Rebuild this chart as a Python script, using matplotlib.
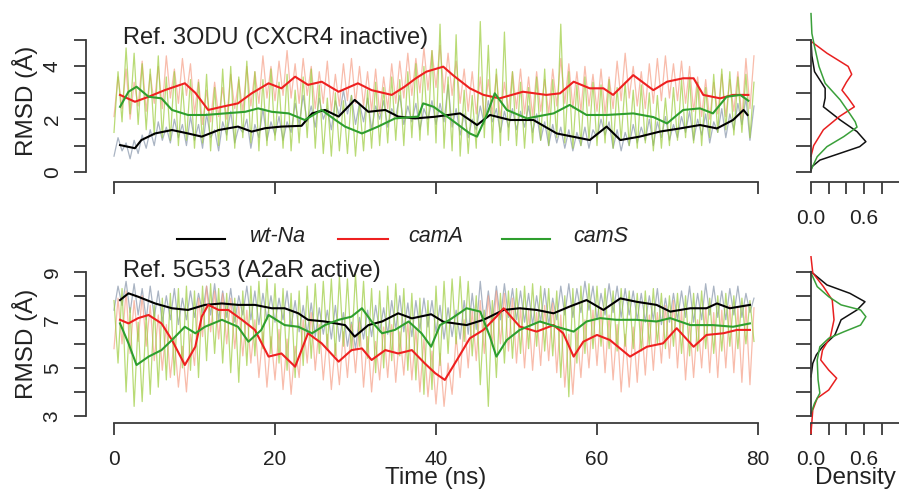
import numpy as np
import matplotlib
matplotlib.use("Agg")
import matplotlib.pyplot as plt
from matplotlib.lines import Line2D

plt.rcParams['font.family'] = ['Liberation Sans', 'DejaVu Sans']

# ---------------- data ----------------
raw_time = np.arange(160) * 0.5  # ns

top_raw_wt = [float(v) for v in """
0.6 1.3 0.8 1.1 0.5 1.2 0.7 1.4 0.9 1.6 1.0 1.9 1.2 1.7 1.1 2.0 1.3 1.8 1.0 2.1
1.2 1.8 0.9 2.2 1.3 1.6 0.8 1.9 1.4 2.3 1.1 1.7 1.5 2.0 0.9 1.8 1.3 2.4 1.2 1.9
1.4 2.1 1.2 1.9 1.5 2.6 1.8 2.9 1.9 2.5 1.7 2.8 2.0 2.4 1.6 2.7 2.1 3.1 2.2 2.9
1.8 2.6 1.9 2.8 1.6 2.5 2.0 2.7 1.7 2.4 2.1 2.9 1.8 2.5 1.9 2.6 1.6 2.4 2.0 2.7
1.8 2.6 1.9 3.3 1.7 2.4 1.4 2.2 1.3 2.0 1.6 2.5 1.8 2.7 1.9 2.4 1.5 2.3 1.7 2.4
1.6 2.3 1.7 2.5 1.5 2.2 1.2 1.9 1.0 1.8 1.1 1.7 0.9 1.6 0.8 1.5 1.0 1.7 0.9 1.6
1.3 2.0 1.4 1.9 0.9 1.6 0.8 1.5 1.0 1.8 1.1 1.7 1.2 2.0 1.0 1.9 1.3 2.1 1.2 1.8
1.3 2.1 1.5 2.3 1.2 2.0 1.4 2.2 1.1 1.9 1.5 2.4 1.3 2.2 1.6 2.6 1.8 2.8 1.2 2.5
""".split()]

top_raw_camA = [float(v) for v in """
2.1 3.6 2.4 3.9 2.0 3.4 2.5 4.2 2.3 3.7 2.6 4.0 2.4 4.4 2.8 3.9 2.6 4.3 2.9 4.1
2.2 3.5 1.8 3.1 1.9 3.4 2.1 3.2 2.0 3.7 2.4 3.5 2.3 4.0 2.5 3.8 2.6 4.4 2.8 4.0
2.7 4.2 2.9 4.6 2.8 4.1 2.6 4.3 2.9 4.0 2.4 3.8 2.6 4.2 2.3 3.7 2.5 4.1 2.7 4.3
2.6 4.0 2.5 3.8 2.3 3.9 2.2 3.6 2.4 4.1 2.6 4.2 2.8 4.5 2.9 4.3 3.0 4.7 3.1 4.6
3.2 4.8 3.0 4.5 2.9 4.2 2.6 3.9 2.3 3.8 2.2 3.6 2.1 3.5 2.2 3.7 2.0 3.4 2.3 3.8
2.4 3.9 2.2 3.6 2.1 3.8 2.3 3.5 2.2 3.9 2.5 4.3 2.6 4.1 2.4 3.8 2.3 4.0 2.5 3.7
2.3 3.9 2.2 3.6 2.4 4.2 2.7 4.5 2.8 4.0 2.5 3.8 2.4 4.1 2.6 4.3 2.7 4.4 2.8 4.1
2.7 4.2 2.6 4.0 2.3 3.6 2.1 3.5 2.0 3.4 2.2 3.7 2.1 3.5 2.3 3.8 2.0 4.3 2.4 4.4
""".split()]

top_raw_camS = [float(v) for v in """
1.5 3.8 1.9 4.7 2.2 4.5 1.8 4.1 1.6 3.9 1.4 4.4 1.3 3.6 1.2 3.8 1.0 3.3 1.2 3.5
0.9 3.4 1.1 3.7 0.8 3.2 1.0 3.9 1.2 4.0 0.9 3.6 1.3 4.2 1.1 3.8 0.8 3.5 1.0 3.9
1.2 3.4 0.9 3.7 0.8 3.1 1.1 3.6 1.3 3.9 0.9 3.3 0.7 2.8 0.6 3.0 0.8 2.7 0.7 2.9
0.6 2.6 0.8 3.1 0.9 3.4 1.0 3.2 1.1 3.6 1.2 3.5 1.0 3.8 1.3 4.1 1.2 4.0 1.4 4.6
1.1 5.6 0.9 3.6 0.8 5.2 0.6 3.1 0.7 2.9 0.9 5.7 1.3 4.8 1.1 3.9 1.0 5.3 1.2 3.8
1.0 3.4 0.9 3.2 1.1 3.6 1.2 3.9 1.0 3.5 1.3 5.6 1.1 3.8 0.9 3.3 1.0 3.6 1.2 3.4
1.0 3.3 1.1 3.5 0.9 3.2 1.2 3.4 1.0 3.1 0.9 3.3 1.1 3.0 0.8 2.9 0.9 2.8 1.0 3.2
1.2 3.5 1.3 3.6 1.1 3.4 1.0 3.2 1.3 3.7 1.5 3.9 1.6 3.8 1.4 3.6 1.5 3.7 1.3 3.4
""".split()]

bot_raw_wt = [float(v) for v in """
7.4 8.4 7.6 8.6 7.3 8.5 7.2 8.3 7.0 8.4 7.1 8.2 6.9 8.0 7.0 8.3 6.8 7.9 7.0 8.2
7.1 8.1 7.3 8.4 7.2 8.5 7.0 8.2 7.1 8.3 6.9 8.0 7.2 8.4 7.0 8.2 6.8 8.1 7.0 8.0
6.9 7.9 7.0 8.2 6.7 7.8 6.5 7.6 6.4 7.7 6.3 7.5 6.4 7.4 6.2 7.6 6.1 7.3 5.9 6.9
5.8 7.1 6.2 7.4 6.3 7.6 6.5 7.5 6.4 7.8 6.6 8.0 6.5 7.7 6.3 7.8 6.6 7.9 6.7 7.8
6.5 7.6 6.2 7.5 6.3 7.4 6.2 7.8 6.4 8.1 6.6 8.6 6.8 8.2 6.9 8.4 7.0 8.5 7.1 8.3
7.0 8.2 6.9 8.1 6.8 8.0 6.9 8.3 6.8 7.9 7.0 8.4 7.2 8.5 7.1 8.3 7.3 8.6 7.4 8.4
7.0 8.1 7.2 8.5 7.3 8.4 7.1 8.3 7.2 8.2 7.0 8.1 6.9 8.0 7.0 8.3 6.8 7.9 6.9 8.1
7.0 8.2 7.1 8.4 6.9 8.1 7.0 8.5 7.2 8.4 7.1 8.2 7.0 8.3 7.2 8.4 7.1 8.1 7.3 7.9
""".split()]

bot_raw_camA = [float(v) for v in """
5.8 7.9 6.0 8.2 5.6 7.8 6.1 8.0 5.9 7.6 5.3 7.2 4.9 6.8 4.6 6.2 4.2 5.9 4.0 6.4
5.1 7.9 6.3 8.4 6.5 8.2 6.2 8.1 6.0 7.9 5.8 7.6 5.5 7.4 5.2 7.0 4.6 6.5 4.2 6.3
4.5 6.6 4.1 6.2 3.9 5.9 4.6 7.0 5.2 7.3 4.9 6.8 4.5 6.4 4.1 6.0 4.3 6.5 4.6 6.8
4.8 6.9 4.2 6.3 4.0 6.1 4.5 6.7 4.6 6.8 4.4 6.5 4.7 6.9 4.5 6.6 4.0 6.2 3.8 5.7
3.5 5.6 3.4 5.2 3.9 6.3 4.6 7.0 5.0 7.4 5.3 7.8 5.6 8.0 5.9 8.2 6.0 8.1 5.7 7.9
5.2 7.5 5.0 7.4 4.9 7.3 5.1 7.6 5.3 7.7 4.8 7.2 4.2 6.4 3.9 6.6 4.6 7.0 5.0 7.4
5.1 7.5 4.8 7.2 4.5 6.8 4.0 6.4 4.2 6.7 4.4 7.0 4.7 7.2 4.9 7.3 5.2 7.6 5.4 7.8
5.0 7.4 4.5 6.9 4.6 7.0 5.0 7.5 4.8 7.3 4.6 7.4 5.0 7.6 4.8 7.5 4.4 7.6 4.3 7.5
""".split()]

bot_raw_camS = [float(v) for v in """
7.8 5.2 8.3 4.0 7.5 3.4 6.9 3.6 7.2 3.9 7.6 4.2 7.9 4.5 8.1 4.7 8.3 5.0 8.4 4.9
8.2 4.6 8.4 5.3 8.5 5.6 8.3 5.2 8.1 4.8 7.9 4.4 8.2 5.1 8.4 5.5 8.6 5.8 8.7 5.6
8.5 5.2 8.3 4.9 8.1 4.6 8.2 5.1 8.4 5.4 8.5 5.6 8.6 5.8 8.7 5.5 8.8 5.9 8.7 5.7
8.9 5.9 8.6 5.4 8.3 4.8 8.2 5.0 8.4 5.3 8.5 5.5 8.3 4.9 8.1 4.5 7.9 3.9 7.8 4.1
8.4 5.1 8.6 5.6 8.7 6.0 8.8 6.1 8.6 5.5 8.0 4.3 7.4 3.4 7.8 4.6 8.1 5.2 8.2 5.4
8.3 5.6 8.4 5.8 8.5 5.9 8.4 5.7 8.3 5.5 8.2 4.6 8.0 3.8 8.3 5.2 8.4 5.6 8.5 5.8
8.4 5.9 8.3 5.8 8.2 5.7 8.3 5.9 8.2 5.8 8.1 5.7 8.2 5.9 8.3 6.0 8.1 5.8 8.0 5.9
8.1 5.6 8.0 5.5 8.1 5.7 8.2 5.8 7.9 5.6 8.0 5.7 8.1 5.9 8.0 5.8 7.9 6.0 7.8 6.1
""".split()]

# smoothed (running mean) traces
top_wt_t = [0.75, 2.6, 3.4, 5.1, 7.2, 9.2, 10.9, 13.0, 15.4, 17.1, 18.8, 20.8, 23.3, 24.6, 26.2, 27.9, 29.9, 31.6, 33.7, 35.3, 37.4, 39.8, 43.0, 45.1, 46.7, 49.2, 52.1, 55.0, 59.1, 61.2, 62.9, 65.3, 67.8, 70.3, 72.8, 74.9, 76.9, 78.2, 78.7]
top_wt_v = [1.02, 0.90, 1.21, 1.46, 1.59, 1.46, 1.34, 1.59, 1.72, 1.53, 1.66, 1.72, 1.75, 2.22, 2.35, 2.10, 2.73, 2.28, 2.35, 2.10, 2.03, 2.09, 2.22, 1.78, 2.16, 1.97, 1.97, 1.46, 1.21, 1.72, 1.21, 1.34, 1.53, 1.65, 1.78, 1.65, 1.97, 2.35, 2.16]

top_camA_t = [0.75, 2.6, 4.3, 6.3, 8.8, 10.1, 11.7, 13.4, 15.4, 17.1, 19.2, 20.8, 22.5, 24.1, 25.8, 27.9, 30.3, 32.0, 34.5, 36.1, 37.5, 38.8, 40.9, 42.1, 44.2, 45.9, 47.9, 50.8, 53.7, 55.4, 57.1, 59.1, 60.8, 62.0, 64.5, 67.0, 68.7, 70.7, 72.0, 73.2, 75.3, 76.9, 78.8]
top_camA_v = [2.92, 2.66, 2.85, 3.10, 3.36, 3.00, 2.35, 2.47, 2.60, 2.98, 3.36, 3.17, 3.61, 3.30, 3.42, 3.04, 3.36, 3.10, 2.92, 3.23, 3.55, 3.80, 3.99, 3.67, 3.17, 2.92, 2.79, 3.04, 2.92, 2.98, 3.42, 3.17, 3.17, 2.92, 3.67, 3.10, 3.42, 3.55, 3.55, 2.92, 2.79, 2.92, 2.92]

top_camS_t = [0.75, 1.8, 2.8, 4.3, 5.9, 7.2, 9.2, 11.3, 13.8, 16.3, 17.9, 19.6, 21.7, 23.7, 25.8, 27.5, 28.7, 30.8, 32.8, 34.9, 37.8, 38.4, 39.7, 41.7, 44.2, 45.1, 46.3, 47.3, 48.8, 51.3, 54.6, 56.6, 58.7, 61.2, 64.5, 67.0, 68.7, 70.7, 72.8, 74.4, 76.1, 77.8, 78.8]
top_camS_v = [2.47, 3.04, 3.23, 2.85, 2.79, 2.35, 2.16, 2.16, 2.22, 2.28, 2.41, 2.28, 2.22, 1.97, 2.35, 1.97, 1.72, 1.46, 1.72, 2.03, 2.10, 2.60, 2.47, 2.03, 1.46, 1.34, 2.16, 2.98, 2.35, 2.03, 2.22, 2.54, 2.16, 2.16, 2.22, 2.08, 1.84, 2.35, 2.41, 2.22, 2.85, 2.92, 2.70]

bot_wt_t = [0.75, 1.8, 3.0, 5.1, 7.2, 9.2, 11.3, 13.4, 15.4, 17.5, 19.6, 21.2, 22.9, 24.1, 26.2, 28.7, 29.9, 31.6, 33.3, 35.3, 37.0, 39.4, 40.9, 43.8, 45.9, 48.4, 50.4, 52.5, 54.6, 56.6, 58.7, 60.8, 62.9, 64.9, 67.4, 69.1, 71.6, 73.6, 74.9, 76.5, 79.0]
bot_wt_v = [7.82, 8.10, 7.96, 7.68, 7.48, 7.41, 7.62, 7.68, 7.62, 7.62, 7.48, 7.48, 7.27, 7.00, 6.93, 6.78, 6.30, 6.78, 6.93, 7.27, 7.06, 7.23, 6.92, 6.78, 7.00, 7.41, 7.48, 7.41, 7.27, 7.55, 7.82, 7.41, 7.89, 7.75, 7.62, 7.34, 7.48, 7.48, 7.68, 7.48, 7.62]

bot_camA_t = [0.75, 1.8, 3.0, 4.3, 5.9, 7.2, 8.8, 10.1, 10.9, 11.7, 13.0, 14.2, 15.9, 17.5, 19.2, 20.8, 22.5, 24.1, 25.8, 27.9, 29.5, 30.8, 32.0, 33.7, 35.3, 37.0, 38.6, 39.9, 41.1, 42.6, 44.2, 45.9, 47.5, 48.4, 50.4, 52.5, 54.6, 55.8, 57.1, 58.3, 60.0, 61.6, 64.1, 66.2, 68.2, 69.9, 72.0, 73.6, 75.7, 77.4, 79.0]
bot_camA_v = [7.00, 6.85, 7.07, 7.20, 6.85, 6.16, 5.12, 5.88, 7.13, 7.62, 7.41, 7.41, 7.00, 6.58, 5.47, 5.60, 5.05, 6.44, 6.02, 5.26, 5.74, 5.81, 5.33, 5.74, 5.60, 5.74, 5.19, 4.78, 4.50, 5.33, 6.23, 6.58, 7.13, 7.48, 6.72, 6.51, 6.78, 6.44, 5.47, 6.09, 6.37, 6.16, 5.47, 5.88, 6.02, 6.65, 5.88, 6.37, 6.44, 6.58, 6.58]

bot_camS_t = [0.75, 1.8, 2.8, 4.3, 5.9, 7.2, 8.8, 10.1, 11.3, 13.4, 15.4, 16.7, 18.3, 19.2, 21.2, 22.9, 24.6, 26.2, 27.9, 29.5, 30.8, 32.0, 33.3, 34.9, 36.6, 38.2, 39.4, 40.5, 41.7, 43.8, 45.5, 46.7, 47.5, 48.8, 50.4, 52.9, 55.0, 57.1, 58.7, 60.4, 62.4, 64.9, 67.4, 69.1, 71.6, 74.4, 76.9, 79.0]
bot_camS_v = [6.85, 6.02, 5.12, 5.47, 5.74, 6.16, 6.71, 6.44, 6.71, 7.00, 6.71, 6.09, 6.58, 7.20, 6.78, 6.71, 6.44, 6.78, 7.00, 7.13, 7.48, 6.93, 6.44, 6.58, 6.93, 6.44, 5.88, 6.78, 7.00, 7.48, 7.34, 6.30, 5.47, 6.16, 6.58, 6.93, 6.71, 6.51, 6.93, 7.07, 7.00, 7.00, 6.93, 7.07, 6.78, 6.78, 6.71, 6.85]

# densities (RMSD value, density)
dtop_wt_r = [5.0, 4.4, 3.8, 3.17, 2.8, 2.47, 1.97, 1.53, 1.15, 0.96, 0.71, 0.45, 0.2, 0.05]
dtop_wt_d = [0.0, 0.01, 0.04, 0.16, 0.16, 0.14, 0.33, 0.52, 0.62, 0.55, 0.33, 0.10, 0.01, 0.0]
dtop_camA_r = [4.95, 4.5, 4.0, 3.7, 3.4, 3.1, 2.8, 2.47, 2.1, 1.6, 1.0, 0.6]
dtop_camA_d = [0.0, 0.18, 0.42, 0.46, 0.40, 0.35, 0.42, 0.49, 0.32, 0.14, 0.03, 0.0]
dtop_camS_r = [6.0, 5.25, 4.75, 4.0, 3.36, 2.73, 2.2, 1.9, 1.7, 1.34, 0.96, 0.58, 0.08]
dtop_camS_d = [0.0, 0.01, 0.04, 0.09, 0.16, 0.33, 0.44, 0.50, 0.52, 0.37, 0.18, 0.07, 0.0]

dbot_wt_r = [9.0, 8.45, 8.1, 7.75, 7.41, 7.0, 6.37, 5.88, 5.54, 5.19, 4.63]
dbot_wt_d = [0.0, 0.18, 0.44, 0.61, 0.52, 0.34, 0.27, 0.13, 0.06, 0.02, 0.0]
dbot_camA_r = [9.62, 8.95, 8.38, 7.82, 7.0, 6.3, 5.74, 5.33, 4.91, 4.57, 4.08, 3.74, 3.25, 2.28]
dbot_camA_d = [0.0, 0.02, 0.14, 0.24, 0.26, 0.22, 0.13, 0.11, 0.20, 0.29, 0.20, 0.07, 0.02, 0.0]
dbot_camS_r = [8.95, 8.38, 7.96, 7.62, 7.41, 7.13, 6.78, 6.5, 6.23, 5.88, 5.33, 4.5, 3.95, 3.53, 3.11]
dbot_camS_d = [0.0, 0.07, 0.20, 0.34, 0.56, 0.62, 0.56, 0.37, 0.20, 0.10, 0.07, 0.08, 0.10, 0.04, 0.0]

x_ticks = [0, 20, 40, 60, 80]
dens_ticks = [0.0, 0.2, 0.4, 0.6, 0.8, 1.0]
dens_labels = ["0.0", "", "", "0.6", "", ""]
series = ["wt-Na", "camA", "camS"]

# ---------------- styling ----------------
W, H = 899, 495
fig = plt.figure(figsize=(W / 100, H / 100), dpi=100)

def ax_px(x0, y0, x1, y1):
    return fig.add_axes([x0 / W, 1 - y1 / H, (x1 - x0) / W, (y1 - y0) / H])

raw_cols = ["#8695aa", "#f6a088", "#9ccc3c"]
smo_cols = ["#000000", "#ee2020", "#2e9e2e"]
den_cols = ["#111111", "#e82020", "#3aa03a"]
axcol = "#3a3a3a"
tfs = 15

def style_axis(ax, xb, yb, yticks, ylabels, xticks, xlabels, ylen=8.5):
    for s in ["top", "right"]:
        ax.spines[s].set_visible(False)
    for s in ["left", "bottom"]:
        ax.spines[s].set_color(axcol)
        ax.spines[s].set_linewidth(1.3)
    ax.spines["left"].set_bounds(*yb)
    ax.spines["bottom"].set_bounds(*xb)
    ax.set_yticks(yticks)
    ax.set_yticklabels(ylabels, rotation=90, va="center")
    ax.set_xticks(xticks)
    ax.set_xticklabels(xlabels)
    ax.tick_params(axis="y", length=ylen, width=1.3, color=axcol, pad=9, labelsize=tfs, labelcolor="#222222")
    ax.tick_params(axis="x", length=8.5, width=1.3, color=axcol, pad=11, labelsize=tfs, labelcolor="#222222")
    ax.patch.set_alpha(0)

XL = ((86 - 114) / 8.05, (784 - 114) / 8.05)

# top main
axt = ax_px(86, 20, 784, 182)
for y, c in zip([top_raw_wt, top_raw_camA, top_raw_camS], raw_cols):
    axt.plot(raw_time, y, color=c, lw=0.9, alpha=0.7)
for t, v, c in zip([top_wt_t, top_camA_t, top_camS_t], [top_wt_v, top_camA_v, top_camS_v], smo_cols):
    axt.plot(t, v, color=c, lw=1.5)
axt.set_xlim(*XL)
axt.set_ylim((172 - 182) / 26.4, (172 - 20) / 26.4)
style_axis(axt, (0, 80), (0, 5), [0, 1, 2, 3, 4, 5], ["0", "", "2", "", "4", ""], x_ticks, [""] * 5)
fig.text(123 / W, 1 - 38 / H, "Ref. 3ODU (CXCR4 inactive)", fontsize=17, color="#222222", va="center", ha="left")

# bottom main
axb = ax_px(86, 262, 784, 422.7)
for y, c in zip([bot_raw_wt, bot_raw_camA, bot_raw_camS], raw_cols):
    axb.plot(raw_time, y, color=c, lw=0.9, alpha=0.7)
for t, v, c in zip([bot_wt_t, bot_camA_t, bot_camS_t], [bot_wt_v, bot_camA_v, bot_camS_v], smo_cols):
    axb.plot(t, v, color=c, lw=1.5)
axb.set_xlim(*XL)
axb.set_ylim(3 - (422.7 - 416) / 24.05, 9 + (271.7 - 262) / 24.05)
style_axis(axb, (0, 80), (3, 9), [3, 4, 5, 6, 7, 8, 9], ["3", "", "5", "", "7", "", "9"], x_ticks, [str(v) for v in x_ticks])
fig.text(123 / W, 1 - 271 / H, "Ref. 5G53 (A2aR active)", fontsize=17, color="#222222", va="center", ha="left")

# density panels
adt = ax_px(811, 20, 899.5, 182)
for r, d, c in zip([dtop_wt_r, dtop_camA_r, dtop_camS_r], [dtop_wt_d, dtop_camA_d, dtop_camS_d], den_cols):
    adt.plot(d, r, color=c, lw=1.1, clip_on=False)
adt.set_xlim(0, 1.0)
adt.set_ylim(axt.get_ylim())
style_axis(adt, (0, 1.0), (0, 5), [0, 1, 2, 3, 4, 5], [""] * 6, dens_ticks, dens_labels, ylen=11)

adb = ax_px(811, 262, 899.5, 422.7)
for r, d, c in zip([dbot_wt_r, dbot_camA_r, dbot_camS_r], [dbot_wt_d, dbot_camA_d, dbot_camS_d], den_cols):
    adb.plot(d, r, color=c, lw=1.1, clip_on=False)
adb.set_xlim(0, 1.0)
adb.set_ylim(axb.get_ylim())
style_axis(adb, (0, 1.0), (3, 9), [3, 4, 5, 6, 7, 8, 9], [""] * 7, dens_ticks, dens_labels, ylen=11)

# axis titles
fig.text(25 / W, 1 - 101 / H, "RMSD (Å)", rotation=90, fontsize=17.5, va="center", ha="center", color="#222222")
fig.text(25 / W, 1 - 344 / H, "RMSD (Å)", rotation=90, fontsize=17.5, va="center", ha="center", color="#222222")
fig.text(436 / W, 1 - 478 / H, "Time (ns)", fontsize=17.5, va="center", ha="center", color="#222222")
fig.text(855 / W, 1 - 478 / H, "Density", fontsize=17.5, va="center", ha="center", color="#222222")

# legend
leg_line_x = [(177, 225), (338, 388), (502, 550)]
leg_text_x = [250, 408, 573]
for (x0, x1), tx, c, lab in zip(leg_line_x, leg_text_x, smo_cols, series):
    fig.add_artist(Line2D([x0 / W, x1 / W], [1 - 239 / H, 1 - 239 / H], color=c, lw=1.5, transform=fig.transFigure))
    fig.text(tx / W, 1 - 237 / H, lab, fontsize=15.5, style="italic", va="center", ha="left", color="#222222")

fig.savefig("out.png", dpi=100)
